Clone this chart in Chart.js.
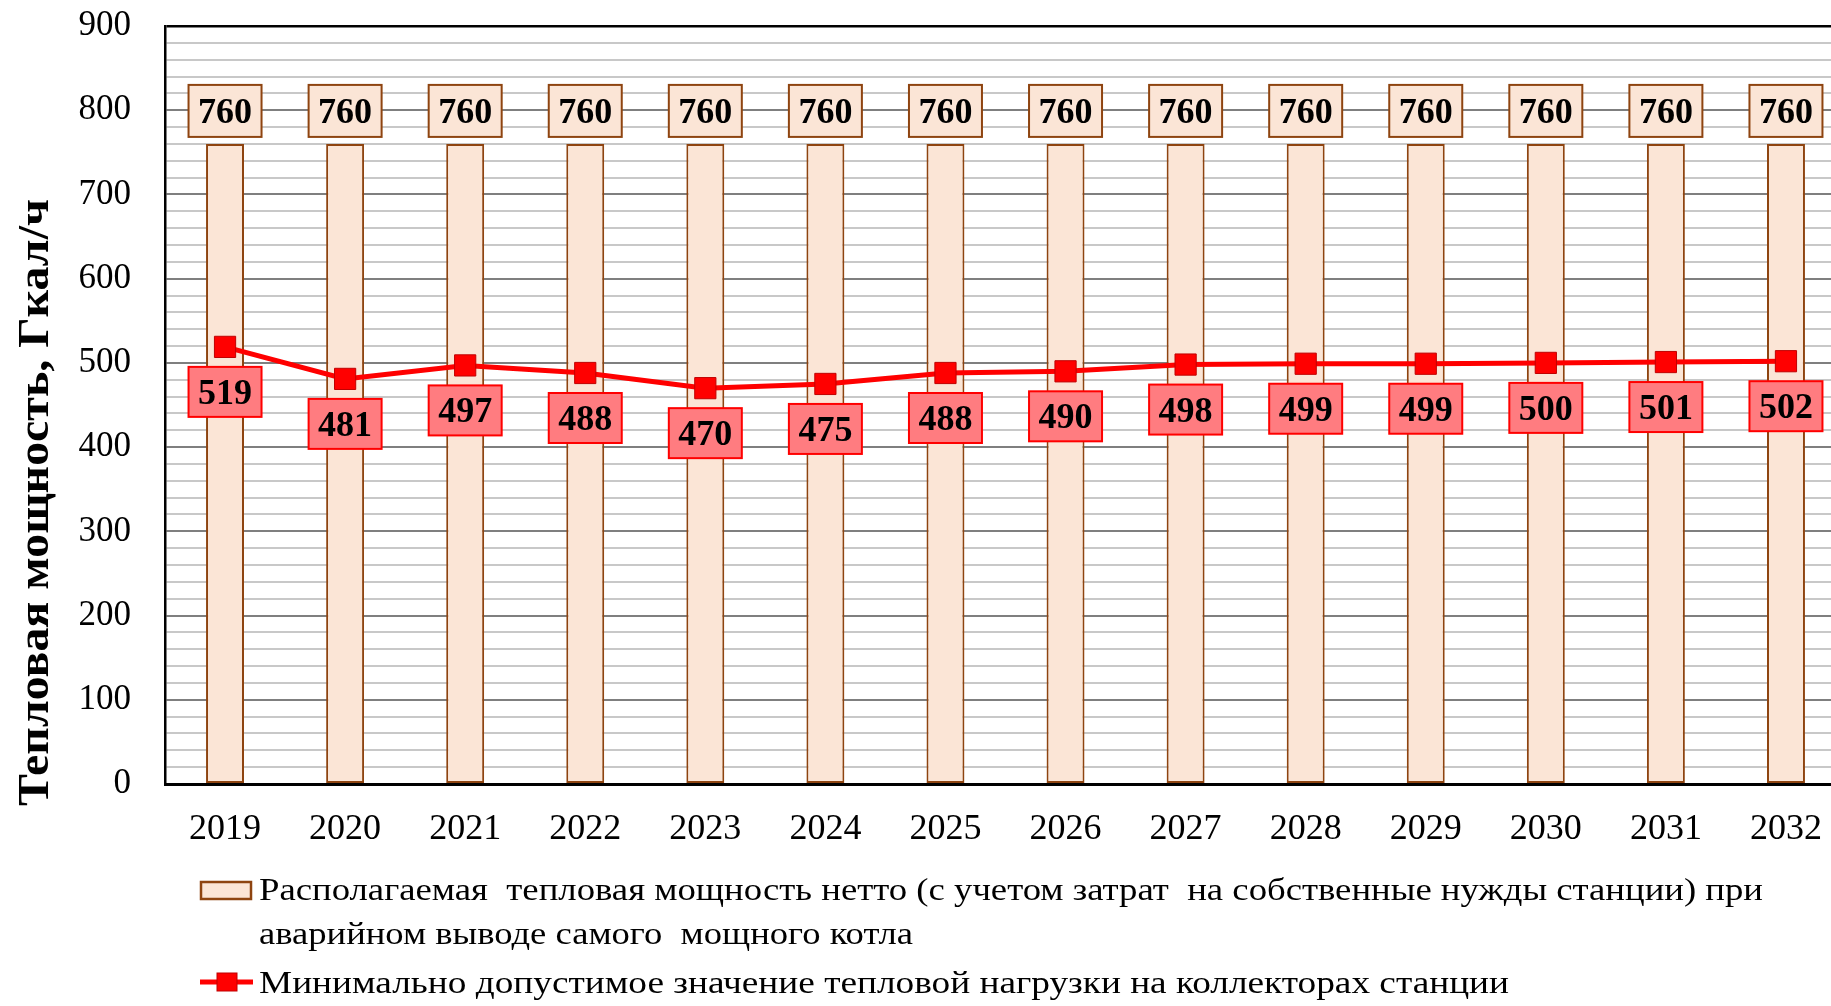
<!DOCTYPE html>
<html>
<head>
<meta charset="utf-8">
<script src="https://cdn.jsdelivr.net/npm/chart.js@4"></script>
<style>
  html, body { margin: 0; padding: 0; background: #fff; overflow: hidden; }
  #wrap { width: 1862px; height: 1006px; }
</style>
</head>
<body>
<div id="wrap"><canvas id="chart" width="1862" height="1006"></canvas></div>
<script>
// данные
const years = ["2019", "2020", "2021", "2022", "2023", "2024", "2025", "2026", "2027", "2028", "2029", "2030", "2031", "2032"];
const availableNet = [760, 760, 760, 760, 760, 760, 760, 760, 760, 760, 760, 760, 760, 760];
const minLoad = [519, 481, 497, 488, 470, 475, 488, 490, 498, 499, 499, 500, 501, 502];
const yMin = 0;
const yMax = 900;
const yMinorStep = 20;
const yMajorStep = 100;

const yTitle = "Тепловая мощность, Гкал/ч";
const legendBarText = [
  "Располагаемая  тепловая мощность нетто (с учетом затрат  на собственные нужды станции) при",
  "аварийном выводе самого  мощного котла"
];
const legendLineText = "Минимально допустимое значение тепловой нагрузки на коллекторах станции";

const SERIF = '"Liberation Serif", "Times New Roman", serif';
const BAR_FILL = "#FBE5D6";
const BAR_EDGE = "#8E4410";
const RED = "#FF0000";
const RED_LABEL = "#FF7C80";

function drawBox(ctx, cx, cy, w, h, fill, edge, text) {
  ctx.fillStyle = fill;
  ctx.fillRect(cx - w / 2, cy - h / 2, w, h);
  ctx.lineWidth = 2;
  ctx.strokeStyle = edge;
  ctx.strokeRect(cx - w / 2, cy - h / 2, w, h);
  ctx.fillStyle = "#000";
  ctx.fillText(text, cx, cy + 12);
}

// fit text to a given length by horizontal scaling
function fitText(ctx, text, x, y, targetW) {
  const w = ctx.measureText(text).width;
  ctx.save();
  ctx.translate(x, y);
  ctx.scale(targetW / w, 1);
  ctx.fillText(text, 0, 0);
  ctx.restore();
}

const boxLabels = {
  id: "boxLabels",
  afterDatasetsDraw(chart) {
    const ctx = chart.ctx;
    ctx.save();
    ctx.font = "bold 36px " + SERIF;
    ctx.textAlign = "center";
    ctx.textBaseline = "alphabetic";
    chart.getDatasetMeta(1).data.forEach((bar, i) => {
      drawBox(ctx, bar.x, bar.y - 33, 73, 52, BAR_FILL, BAR_EDGE, String(availableNet[i]));
    });
    chart.getDatasetMeta(0).data.forEach((pt, i) => {
      drawBox(ctx, pt.x, pt.y + 45, 73, 50, RED_LABEL, RED, String(minLoad[i]));
    });
    ctx.restore();
  }
};

const extras = {
  id: "extras",
  afterDraw(chart) {
    const ctx = chart.ctx;
    ctx.save();
    ctx.fillStyle = "#000";
    ctx.textAlign = "left";
    ctx.textBaseline = "alphabetic";

    // подпись оси Y
    ctx.font = "bold 44px " + SERIF;
    ctx.save();
    ctx.translate(48, 806);
    ctx.rotate(-Math.PI / 2);
    fitText(ctx, yTitle, 0, 0, 607);
    ctx.restore();

    // легенда: столбцы
    ctx.fillStyle = BAR_FILL;
    ctx.fillRect(201, 882, 50, 17);
    ctx.strokeStyle = BAR_EDGE;
    ctx.lineWidth = 2.5;
    ctx.strokeRect(201, 882, 50, 17);

    ctx.fillStyle = "#000";
    ctx.font = "31px " + SERIF;
    fitText(ctx, legendBarText[0], 259, 900, 1504);
    fitText(ctx, legendBarText[1], 259, 944, 654);

    // легенда: линия
    ctx.strokeStyle = RED;
    ctx.lineWidth = 5;
    ctx.beginPath();
    ctx.moveTo(200, 982);
    ctx.lineTo(253, 982);
    ctx.stroke();
    ctx.fillStyle = RED;
    ctx.fillRect(217, 973, 20, 18);
    ctx.strokeStyle = "#C00000";
    ctx.lineWidth = 1;
    ctx.strokeRect(217, 973, 20, 18);

    ctx.fillStyle = "#000";
    fitText(ctx, legendLineText, 259, 993, 1250);
    ctx.restore();
  }
};

new Chart(document.getElementById("chart"), {
  type: "bar",
  data: {
    labels: years,
    datasets: [
      {
        type: "line",
        label: legendLineText,
        data: minLoad,
        order: 1,
        borderColor: RED,
        borderWidth: 5,
        backgroundColor: RED,
        pointStyle: "rect",
        pointRadius: 15,
        pointBackgroundColor: RED,
        pointBorderColor: "#C00000",
        pointBorderWidth: 1,
        tension: 0
      },
      {
        type: "bar",
        label: legendBarText.join(" "),
        data: availableNet,
        order: 2,
        backgroundColor: BAR_FILL,
        borderColor: BAR_EDGE,
        borderWidth: 2,
        borderSkipped: false,
        categoryPercentage: 1,
        barPercentage: 0.316
      }
    ]
  },
  options: {
    responsive: false,
    animation: false,
    layout: { padding: { top: 26, right: 4, left: 0, bottom: 0 } },
    plugins: {
      legend: { display: false },
      title: { display: false },
      tooltip: { enabled: false }
    },
    scales: {
      x: {
        offset: true,
        grid: { display: false, drawTicks: false },
        border: { display: true, color: "#000", width: 3 },
        ticks: {
          color: "#000",
          padding: 24,
          font: { family: SERIF, size: 36 }
        },
        afterFit(scale) {
          scale.height = 222;
          scale.paddingLeft = 0;
          scale.paddingRight = 0;
        }
      },
      y: {
        min: yMin,
        max: yMax,
        grid: {
          drawTicks: false,
          color: (c) => c.tick.value === yMax ? "#000" : (c.tick.value % yMajorStep === 0 ? "#7F7F7F" : "#C8C8C8"),
          lineWidth: (c) => c.tick.value === yMax ? 2.5 : 2
        },
        border: { display: true, color: "#000", width: 2.5 },
        ticks: {
          stepSize: yMinorStep,
          autoSkip: false,
          color: "#000",
          padding: 34,
          font: { family: SERIF, size: 35 },
          callback: (v) => v % yMajorStep === 0 ? String(v) : ""
        },
        afterFit(scale) {
          scale.width = 165;
          scale.paddingTop = 0;
          scale.paddingBottom = 0;
        }
      }
    }
  },
  plugins: [boxLabels, extras]
});
</script>
</body>
</html>
